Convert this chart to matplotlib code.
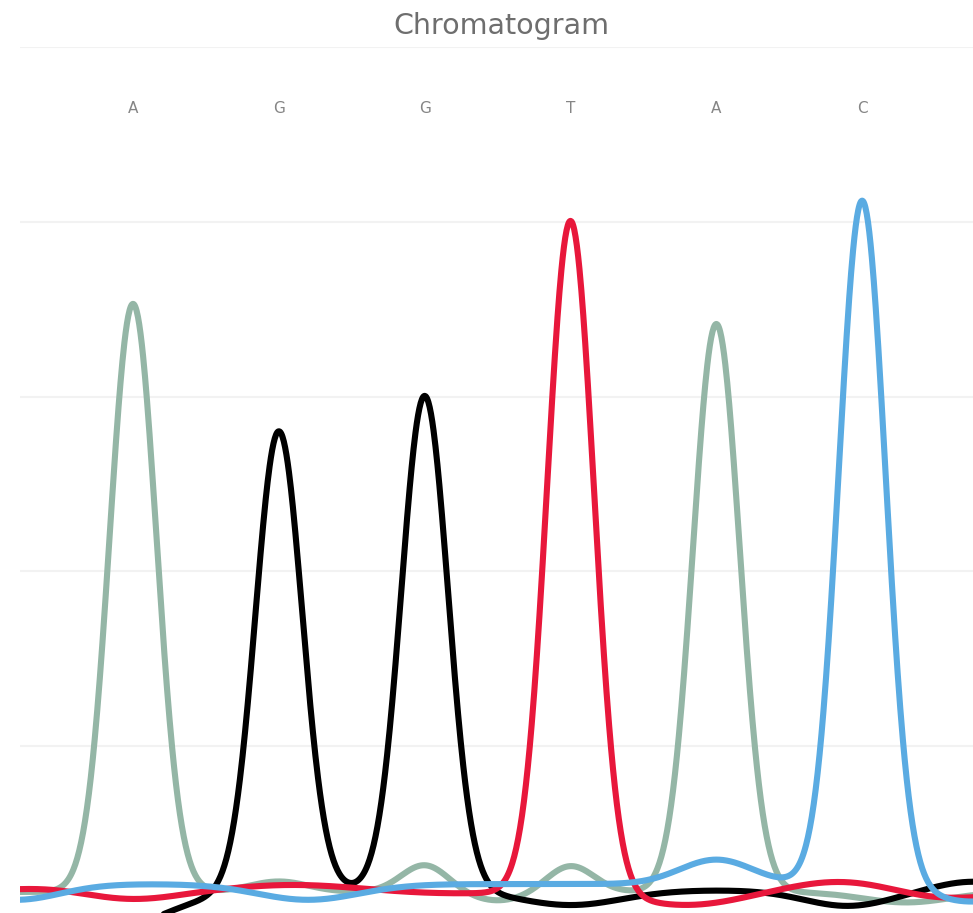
import numpy as np
import matplotlib
matplotlib.use("Agg")
import matplotlib.pyplot as plt

# ---- data ----
bases = ['A', 'G', 'G', 'T', 'A', 'C']
base_pos = [1, 2, 3, 4, 5, 6]

# A channel (green-grey)
a_offset = 0.033
a_centers = [1.0, 2.0, 3.0, 3.5, 4.0, 5.0, 6.3]
a_heights = [0.673, 0.012, 0.031, -0.010, 0.030, 0.650, -0.012]
a_widths = [0.16, 0.20, 0.16, 0.20, 0.16, 0.16, 0.30]

# G channel (black)
g_offset = 0.035
g_centers = [0.7, 2.0, 3.0, 4.0, 5.9, 6.75]
g_heights = [-0.052, 0.526, 0.566, -0.017, -0.018, 0.010]
g_widths = [0.45, 0.16, 0.16, 0.35, 0.30, 0.25]

# T channel (red)
t_offset = 0.032
t_centers = [0.36, 1.0, 2.1, 3.1, 4.0, 4.8, 5.85, 6.55]
t_heights = [0.005, -0.008, 0.009, -0.001, 0.770, -0.014, 0.013, -0.007]
t_widths = [0.30, 0.30, 0.45, 0.30, 0.16, 0.35, 0.35, 0.30]

# C channel (blue)
c_offset = 0.042
c_centers = [0.2, 2.2, 5.0, 6.0, 6.75]
c_heights = [-0.018, -0.018, 0.028, 0.783, -0.020]
c_widths = [0.30, 0.35, 0.25, 0.16, 0.30]

grid_values = [0.2, 0.4, 0.6, 0.8, 1.0]

colors = {'A': '#94b6a6', 'G': '#000000', 'T': '#e8173b', 'C': '#5aabe2'}

# ---- figure ----
W, H = 973, 913
fig = plt.figure(figsize=(W / 100, H / 100), dpi=100)
left_px, top_px = 20, 47
ax = fig.add_axes([left_px / W, 0, 1 - left_px / W, 1 - top_px / H])

xmin, xmax = 0.225, 6.76
ymin, ymax = 0.0089, 1.0
x = np.linspace(xmin - 0.05, xmax + 0.05, 1500)


def trace(offset, centers, heights, widths):
    y = np.full_like(x, offset)
    for c, h, w in zip(centers, heights, widths):
        y += h * np.exp(-0.5 * ((x - c) / w) ** 2)
    return y


lw = 4.4
ax.plot(x, trace(a_offset, a_centers, a_heights, a_widths), color=colors['A'], lw=lw, solid_capstyle='round', zorder=3)
ax.plot(x, trace(g_offset, g_centers, g_heights, g_widths), color=colors['G'], lw=lw, solid_capstyle='round', zorder=4)
ax.plot(x, trace(t_offset, t_centers, t_heights, t_widths), color=colors['T'], lw=lw, solid_capstyle='round', zorder=5)
ax.plot(x, trace(c_offset, c_centers, c_heights, c_widths), color=colors['C'], lw=lw, solid_capstyle='round', zorder=6)

ax.set_xlim(xmin, xmax)
ax.set_ylim(ymin, ymax)
ax.set_yticks(grid_values)
ax.set_xticks([])
ax.grid(axis='y', color='#f2f2f2', lw=1.5)
ax.tick_params(left=False, labelleft=False)
for s in ax.spines.values():
    s.set_visible(False)
ax.set_axisbelow(True)

label_y = 0.930
for b, p in zip(bases, base_pos):
    ax.text(p, label_y, b, ha='center', va='center', fontsize=11, color='#858585')

fig.text(501 / W, 1 - 26 / H, 'Chromatogram', ha='center', va='center', fontsize=20.5, color='#6e6e6e')

fig.savefig('out.png', dpi=100)
